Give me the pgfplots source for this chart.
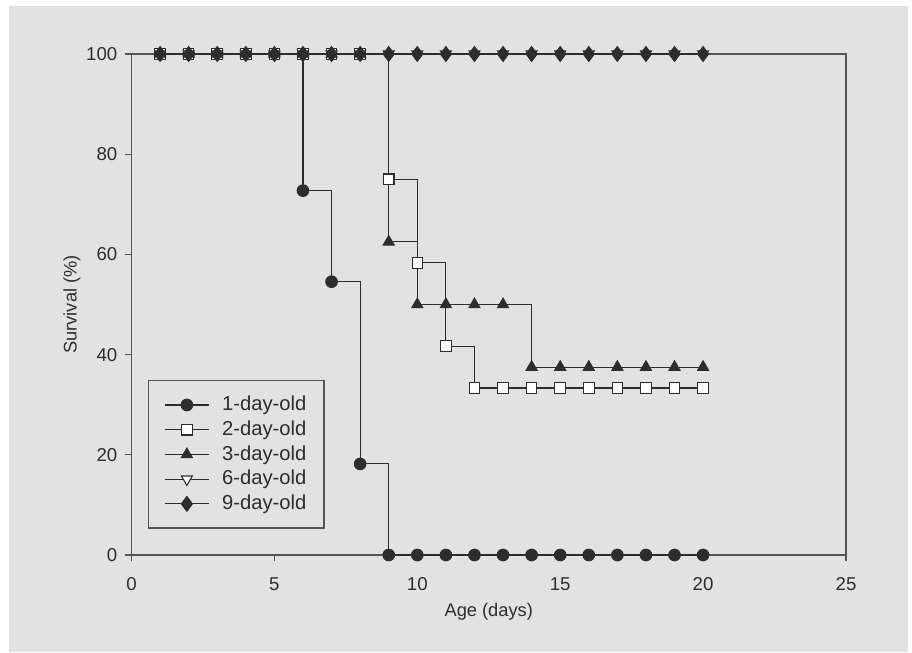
\documentclass[border=0pt]{standalone}
\usepackage{pgfplots}
\pgfplotsset{compat=1.18}
\usepackage{fontspec}
\setmainfont{Liberation Sans}
\usetikzlibrary{backgrounds}

\definecolor{paper}{RGB}{226,226,226}
\definecolor{ink}{RGB}{45,45,45}
\definecolor{axisgray}{RGB}{85,85,85}

\begin{document}
\begin{tikzpicture}
\begin{axis}[
  width=14.29cm, height=10.02cm, scale only axis,
  xmin=0, xmax=25, ymin=0, ymax=100,
  xtick={0,5,...,25}, ytick={0,20,...,100},
  xtick pos=bottom, ytick pos=left,
  tick align=outside, major tick length=0.12cm,
  axis line style={axisgray, line width=0.7pt},
  tick style={axisgray, line width=0.7pt},
  ticklabel style={font=\fontsize{10.6}{12}\selectfont, text=ink},
  xticklabel style={yshift=-0.2cm},
  yticklabel style={xshift=-0.04cm},
  /pgf/number format/assume math mode=true,
  xlabel={Age (days)}, ylabel={Survival (\%)},
  label style={font=\fontsize{10.4}{12}\selectfont, text=ink},
  xlabel style={at={(axis description cs:0.5,-0.1138)}, anchor=center},
  ylabel style={at={(axis description cs:-0.0833,0.5)}, anchor=center},
  legend style={at={(rel axis cs:0.023,0.349)}, anchor=north west,
    draw=axisgray, line width=0.7pt, fill=none,
    font=\fontsize{11.5}{13}\selectfont, text=ink,
    nodes={inner sep=1pt, text height=1.6ex, text depth=0.4ex},
    row sep=1.5pt, inner xsep=9pt, inner ysep=7.5pt},
  legend cell align=left,
  legend image code/.code={%
    \draw[mark repeat=2, mark phase=2] plot coordinates {(0cm,0cm) (0.44cm,0cm) (0.88cm,0cm)};
    \path (1.1cm,0cm);},
  every axis plot/.append style={const plot, ink, line width=0.6pt, mark options={solid}},
]
% 1-day-old
\addplot[mark=*, mark size=3.3pt, mark options={fill=ink}] coordinates {
(1,100) (2,100) (3,100) (4,100) (5,100) (6,72.73) (7,54.55) (8,18.18)
(9,0) (10,0) (11,0) (12,0) (13,0) (14,0) (15,0) (16,0) (17,0) (18,0) (19,0) (20,0)};
\addlegendentry{1-day-old}
% 2-day-old
\addplot[mark=square*, mark size=3pt, mark options={fill=white}] coordinates {
(1,100) (2,100) (3,100) (4,100) (5,100) (6,100) (7,100) (8,100)
(9,75) (10,58.33) (11,41.67) (12,33.33) (13,33.33) (14,33.33) (15,33.33)
(16,33.33) (17,33.33) (18,33.33) (19,33.33) (20,33.33)};
\addlegendentry{2-day-old}
% 3-day-old
\addplot[mark=triangle*, mark size=3.6pt, mark options={fill=ink}] coordinates {
(1,100) (2,100) (3,100) (4,100) (5,100) (6,100) (7,100) (8,100)
(9,62.5) (10,50) (11,50) (12,50) (13,50) (14,37.5) (15,37.5)
(16,37.5) (17,37.5) (18,37.5) (19,37.5) (20,37.5)};
\addlegendentry{3-day-old}
% 6-day-old
\addplot[mark=triangle*, mark size=3.6pt, mark options={fill=white, rotate=180}] coordinates {
(1,100) (2,100) (3,100) (4,100) (5,100) (6,100) (7,100) (8,100) (9,100) (10,100)
(11,100) (12,100) (13,100) (14,100) (15,100) (16,100) (17,100) (18,100) (19,100) (20,100)};
\addlegendentry{6-day-old}
% 9-day-old
\addplot[mark=diamond*, mark size=4.2pt, mark options={fill=ink}] coordinates {
(1,100) (2,100) (3,100) (4,100) (5,100) (6,100) (7,100) (8,100) (9,100) (10,100)
(11,100) (12,100) (13,100) (14,100) (15,100) (16,100) (17,100) (18,100) (19,100) (20,100)};
\addlegendentry{9-day-old}
\end{axis}
\begin{scope}[on background layer]
  \fill[white] ([shift={(-2.63cm,-1.94cm)}]current axis.south west) rectangle ([shift={(15.61cm,11.1cm)}]current axis.south west);
  \fill[paper] ([shift={(-2.45cm,-1.94cm)}]current axis.south west) rectangle ([shift={(15.53cm,10.98cm)}]current axis.south west);
\end{scope}
\end{tikzpicture}
\end{document}
